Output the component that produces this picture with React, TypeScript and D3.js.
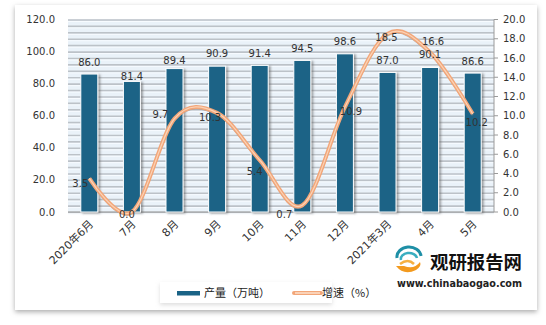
import React from "react";
import * as d3 from "d3";

const categories = ["2020年6月", "7月", "8月", "9月", "10月", "11月", "12月", "2021年3月", "4月", "5月"];
const output = [86.0, 81.4, 89.4, 90.9, 91.4, 94.5, 98.6, 87.0, 90.1, 86.6];
const growth = [3.5, 0.0, 9.7, 10.3, 5.4, 0.7, 10.9, 18.5, 16.6, 10.2];
const leftTicks = [0, 20, 40, 60, 80, 100, 120];
const rightTicks = [0, 2, 4, 6, 8, 10, 12, 14, 16, 18, 20];
const seriesNames = ["产量（万吨）", "增速（%）"];

// label placement tweaks (px)
const barLabelGap = [12, 5, 8, 13, 12, 12, 12, 11.5, 12.5, 12];
const lineLabelOffset: [number, number][] = [
  [-9, 5], [-5, 2], [-14, -4], [-7, 5], [-5, 11], [-18, 9], [6, 4], [-1, 4], [3, -11], [4, 9],
];

const W = 546, H = 325;
const M = { left: 68, right: 494, top: 19.5, bottom: 212 };
const FONT = "'DejaVu Sans', 'Noto Sans CJK SC', sans-serif";
const CJK = "'Noto Sans CJK SC', sans-serif";

export default function App() {
  const x = d3.scaleBand<string>().domain(categories).range([M.left, M.right]).paddingInner(0.6).paddingOuter(0.3);
  const xc = (c: string) => (x(c) as number) + x.bandwidth() / 2;
  const yL = d3.scaleLinear().domain([0, 120]).range([M.bottom, M.top]);
  const yR = d3.scaleLinear().domain([0, 20]).range([M.bottom, M.top]);
  const stripes = d3.range(0, 121, 4);
  const pts = categories.map((c, i) => [xc(c), yR(growth[i])] as [number, number]);
  const line = d3.line().curve(d3.curveCatmullRom.alpha(0))(pts) as string;
  const bw = 17;

  return (
    <svg width={W} height={H} style={{ position: "absolute", left: 0, top: 0, background: "#fff" }} fontFamily={FONT}>
      <defs>
        <filter id="card" x="-5%" y="-5%" width="110%" height="112%">
          <feDropShadow dx="0" dy="2" stdDeviation="2.5" floodColor="#888" floodOpacity="0.7" />
        </filter>
        <filter id="barsh" x="-30%" y="-10%" width="170%" height="120%">
          <feDropShadow dx="2" dy="1" stdDeviation="1.2" floodColor="#555" floodOpacity="0.55" />
        </filter>
        <filter id="legsh" x="-5%" y="-20%" width="110%" height="150%">
          <feDropShadow dx="0" dy="2" stdDeviation="2" floodColor="#bbb" floodOpacity="0.5" />
        </filter>
      </defs>
      <rect x={15} y={5} width={522} height={305} fill="#fff" filter="url(#card)" />
      {/* plot background */}
      <rect x={M.left} y={M.top} width={M.right - M.left} height={M.bottom - M.top} fill="#eaf2f9" />
      {stripes.map((v) => (
        <g key={v}>
          <line x1={M.left} x2={M.right} y1={yL(v) + 0.5} y2={yL(v) + 0.5} stroke="#bcc2c8" strokeWidth={1.6} />
          <line x1={M.left} x2={M.right} y1={yL(v) + 2} y2={yL(v) + 2} stroke="#f7fbff" strokeWidth={1} />
        </g>
      ))}
      <line x1={M.right} x2={M.right} y1={M.top} y2={M.bottom} stroke="#9a9a9a" strokeWidth={1} />
      <line x1={M.left} x2={M.right} y1={M.bottom} y2={M.bottom} stroke="#9a9a9a" strokeWidth={1} />
      {rightTicks.map((t) => (
        <line key={t} x1={M.right} x2={M.right + 4} y1={yR(t)} y2={yR(t)} stroke="#9a9a9a" />
      ))}
      {/* bars */}
      {categories.map((c, i) => (
        <rect key={c} x={xc(c) - bw / 2} y={yL(output[i])} width={bw} height={M.bottom - yL(output[i])}
          fill="#1a6386" stroke="#ffffff" strokeWidth={1} filter="url(#barsh)" />
      ))}
      {/* line */}
      <path d={line} transform="translate(0,1.5)" fill="none" stroke="#8a8a8a" strokeWidth={2} opacity={0.6} />
      <path d={line} fill="none" stroke="#f2a679" strokeWidth={4} />
      <path d={line} fill="none" stroke="#fbd3b6" strokeWidth={1.2} />
      {/* axis labels */}
      {leftTicks.map((t) => (
        <text key={t} x={55} y={yL(t)} dy="0.35em" textAnchor="end" fontSize={10} fill="#333">{t.toFixed(1)}</text>
      ))}
      {rightTicks.map((t) => (
        <text key={t} x={503} y={yR(t)} dy="0.35em" textAnchor="start" fontSize={10} fill="#333">{t.toFixed(1)}</text>
      ))}
      {categories.map((c) => (
        <text key={c} transform={`translate(${xc(c) + 2},${M.bottom + 10}) rotate(-45)`} textAnchor="end"
          dy="0.35em" fontSize={11} fill="#333" fontFamily={FONT}>{c}</text>
      ))}
      {/* bar labels */}
      {categories.map((c, i) => (
        <text key={c} x={xc(c)} y={yL(output[i]) - barLabelGap[i]} dy="0.35em" textAnchor="middle" fontSize={10} fill="#333">
          {output[i].toFixed(1)}
        </text>
      ))}
      {/* line labels */}
      {categories.map((c, i) => (
        <text key={c} x={pts[i][0] + lineLabelOffset[i][0]} y={pts[i][1] + lineLabelOffset[i][1]} dy="0.35em"
          textAnchor="middle" fontSize={10} fill="#333">
          {growth[i].toFixed(1)}
        </text>
      ))}
      {/* legend */}
      <rect x={160} y={282} width={172} height={21} fill="#fff" filter="url(#legsh)" />
      <rect x={177} y={291} width={23} height={4.5} fill="#1a6386" />
      <text x={204} y={293} dy="0.35em" fontSize={11} fill="#222" fontFamily={CJK}>{seriesNames[0]}</text>
      <line x1={294} x2={321} y1={293} y2={293} stroke="#f2a679" strokeWidth={4} strokeLinecap="round" />
      <line x1={295} x2={320} y1={293} y2={293} stroke="#fde0cc" strokeWidth={1.5} />
      <text x={322} y={293} dy="0.35em" fontSize={11} fill="#222" fontFamily={CJK}>{seriesNames[1]}</text>
      {/* watermark */}
      <g>
        <path d="M397,258 A12,10 0 0 1 421,256" fill="none" stroke="#1e8fa6" strokeWidth={3} />
        <path d="M401,260 A8,6 0 0 1 417,258" fill="none" stroke="#3aaec0" strokeWidth={2.5} />
        <path d="M396,266 Q404,276 416,270 Q422,266 420,262 Q414,270 404,266 Z" fill="#f39a1e" />
        <path d="M400,264 Q408,258 414,264" fill="none" stroke="#f5b041" strokeWidth={2.5} />
        <text x={430} y={263} dy="0.36em" fontSize={18} fontWeight="bold" fill="#111" fontFamily={CJK} textLength={92} lengthAdjust="spacingAndGlyphs">观研报告网</text>
        <text x={397} y={283} dy="0.35em" fontSize={10.5} fontWeight="bold" fill="#222" fontFamily="'DejaVu Sans', sans-serif" textLength={125} lengthAdjust="spacingAndGlyphs">www.chinabaogao.com</text>
      </g>
    </svg>
  );
}
